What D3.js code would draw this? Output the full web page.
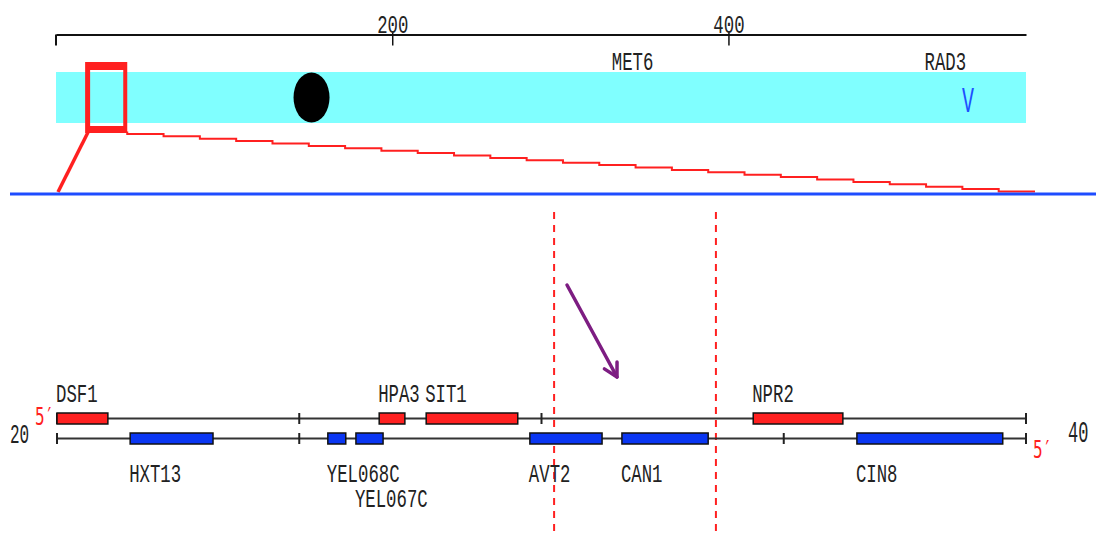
<!DOCTYPE html>
<html><head><meta charset="utf-8">
<script src="https://cdn.jsdelivr.net/npm/d3@7"></script>
<style>
body{margin:0;background:#fff;}
svg{display:block;}
text{font-family:"Liberation Mono","DejaVu Sans Mono",monospace;fill:#222;}
</style>
</head><body>
<svg id="c" width="1096" height="537"></svg>
<script>
// ---------- data ----------
const chrName = "V";
const chrLengthKb = 577;
const topTicks = [200, 400];
const topTickLabels = ["200", "400"];
const overviewGenes = ["MET6", "RAD3"];
const overviewGeneKb = [343, 529];
const centromereKb = 152;
const zoomWindowKb = [20, 40];
const zoomTicks = [20, 25, 30, 35, 40];
const zoomEndLabels = ["20", "40"];
const geneNames  = ["DSF1", "HPA3", "SIT1", "NPR2", "HXT13", "YEL068C", "YEL067C", "AVT2", "CAN1", "CIN8"];
const geneStart  = [20.00, 26.65, 27.62, 34.37, 21.51, 25.59, 26.17, 29.76, 31.66, 36.51];
const geneEnd    = [21.05, 27.18, 29.51, 36.22, 23.22, 25.96, 26.73, 31.25, 33.44, 39.52];
const geneStrand = ["W", "W", "W", "W", "C", "C", "C", "C", "C", "C"];
const labelRow   = [0, 0, 0, 0, 0, 0, 1, 0, 0, 0];
const markerKb = [30.26, 33.60];

// ---------- layout ----------
const svg = d3.select("#c");
const FS = 17.33;      // Liberation Mono: 0.6em advance -> 10.4px cells
const SY = 1.5;        // vertical stretch of the narrow tall font
const RED = "#ff2020", BLUE = "#0a36f2", CYAN = "#80ffff";

function label(x, y, str, o = {}) {
  const t = svg.append("text")
    .attr("transform", `translate(${x},${y}) scale(1,${o.sy || SY})`)
    .style("font-size", (o.fs || FS) + "px")
    .attr("text-anchor", o.anchor || "start")
    .text(str);
  if (o.fill) t.style("fill", o.fill);
  if (o.family) t.style("font-family", o.family);
  return t;
}

const xTop = d3.scaleLinear().domain([0, chrLengthKb]).range([56, 1026]);
const xLow = d3.scaleLinear().domain(zoomWindowKb).range([57, 1026]);

// top axis
const axisY = 34.5;
const ax = svg.append("g").attr("transform", `translate(0,${axisY})`)
  .call(d3.axisBottom(xTop).tickValues(topTicks).tickSize(11).tickSizeOuter(0)
        .tickFormat((d, i) => topTickLabels[i]));
ax.select(".domain").attr("stroke", "#111").attr("stroke-width", 2);
ax.selectAll(".tick line").attr("stroke", "#111").attr("stroke-width", 1.5).attr("y1", -2);
ax.selectAll(".tick text").attr("y", null).attr("dy", null)
  .attr("transform", `translate(0,-1.5) scale(1,${SY})`)
  .attr("font-size", null).attr("font-family", null)
  .style("font-size", FS + "px").attr("fill", "#222");
svg.append("line").attr("x1", xTop(0)).attr("x2", xTop(0)).attr("y1", axisY).attr("y2", 45.5)
  .attr("stroke", "#111").attr("stroke-width", 2);

// chromosome band
svg.append("rect").attr("x", xTop(0)).attr("y", 72).attr("width", xTop(chrLengthKb) - xTop(0))
  .attr("height", 51).attr("fill", CYAN);

// overview gene labels
overviewGenes.forEach((g, i) => label(xTop(overviewGeneKb[i]), 70, g, { anchor: "middle" }));

// centromere
svg.append("ellipse").attr("cx", xTop(centromereKb)).attr("cy", 97.5).attr("rx", 18).attr("ry", 25)
  .attr("fill", "#000");

// chromosome name
label(968, 112, chrName, { anchor: "middle", fs: 20, sy: 1.8, fill: "#1e50ff" });

// zoom box
const bx0 = xTop(zoomWindowKb[0]), bx1 = xTop(zoomWindowKb[1]);
const outer = `M${bx0 - 4.5},62H${bx1 + 4}V133H${bx0 - 4.5}Z`;
const inner = `M${bx0 + 0.5},70H${bx1}V126H${bx0 + 0.5}Z`;
svg.append("path").attr("d", outer + inner).attr("fill", RED).attr("fill-rule", "evenodd");

// connector: left diagonal
svg.append("line").attr("x1", bx0 - 1.5).attr("y1", 132).attr("x2", xLow(zoomWindowKb[0]) + 1).attr("y2", 192)
  .attr("stroke", RED).attr("stroke-width", 3.5);
// connector: stepped right edge
const sx0 = bx1 + 4, sy0 = 131.5, sx1 = xLow(zoomWindowKb[1]) + 9, sy1 = 191.5, nSteps = 25;
const stepPts = d3.range(nSteps + 1).map(i => [sx0 + (sx1 - sx0) * i / nSteps, sy0 + (sy1 - sy0) * i / nSteps]);
svg.append("path").attr("d", d3.line().curve(d3.curveStepBefore)(stepPts))
  .attr("fill", "none").attr("stroke", RED).attr("stroke-width", 2);

// blue baseline
svg.append("line").attr("x1", 10).attr("x2", 1096).attr("y1", 194).attr("y2", 194)
  .attr("stroke", "#1e4cff").attr("stroke-width", 3);

// marker dashed lines
svg.selectAll("line.mk").data(markerKb).join("line").attr("class", "mk")
  .attr("x1", d => xLow(d)).attr("x2", d => xLow(d)).attr("y1", 212).attr("y2", 537)
  .attr("stroke", RED).attr("stroke-width", 2).attr("stroke-dasharray", "7,6");

// purple arrow
const ax0 = 567, ay0 = 285, ax1 = 617, ay1 = 377;
const ang = Math.atan2(ay1 - ay0, ax1 - ax0), hl = 15, ha = 0.5;
svg.append("line").attr("x1", ax0).attr("y1", ay0).attr("x2", ax1).attr("y2", ay1)
  .attr("stroke", "#7d1d82").attr("stroke-width", 3.5).attr("stroke-linecap", "round");
svg.append("path")
  .attr("d", `M${ax1 - hl * Math.cos(ang - ha)},${ay1 - hl * Math.sin(ang - ha)}L${ax1},${ay1}L${ax1 - hl * Math.cos(ang + ha)},${ay1 - hl * Math.sin(ang + ha)}`)
  .attr("fill", "none").attr("stroke", "#7d1d82").attr("stroke-width", 3.5).attr("stroke-linejoin", "round").attr("stroke-linecap", "round");

// strands
const strandY = { W: 418.5, C: 438.5 };
["W", "C"].forEach(s => {
  svg.append("line").attr("x1", xLow(zoomWindowKb[0])).attr("x2", xLow(zoomWindowKb[1]))
    .attr("y1", strandY[s]).attr("y2", strandY[s]).attr("stroke", "#333").attr("stroke-width", 2);
  svg.selectAll(null).data(zoomTicks).join("line")
    .attr("x1", d => xLow(d)).attr("x2", d => xLow(d))
    .attr("y1", strandY[s] - 5.5).attr("y2", strandY[s] + 5.5)
    .attr("stroke", "#222").attr("stroke-width", 2);
});

// genes
const genes = geneNames.map((n, i) => ({ n, s: geneStart[i], e: geneEnd[i], st: geneStrand[i], r: labelRow[i] }));
svg.selectAll("rect.g").data(genes).join("rect").attr("class", "g")
  .attr("x", d => xLow(d.s)).attr("width", d => xLow(d.e) - xLow(d.s))
  .attr("y", d => strandY[d.st] - 5.5).attr("height", 11)
  .attr("fill", d => d.st === "W" ? RED : BLUE).attr("stroke", "#111").attr("stroke-width", 1.5);
genes.forEach(d => label(xLow(d.s) - 1, d.st === "W" ? 402 : 482 + d.r * 25, d.n));

// end coordinates
label(10, 443, zoomEndLabels[0], { fs: 16, sy: 1.75 });
label(1068, 442, zoomEndLabels[1], { fs: 17, sy: 1.7 });

// 5' markers
label(35, 425, "5′", { fs: 16, sy: 1.6, fill: RED, family: "'DejaVu Sans Mono', monospace" });
label(1033, 458, "5′", { fs: 16, sy: 1.6, fill: RED, family: "'DejaVu Sans Mono', monospace" });
</script>
</body></html>
